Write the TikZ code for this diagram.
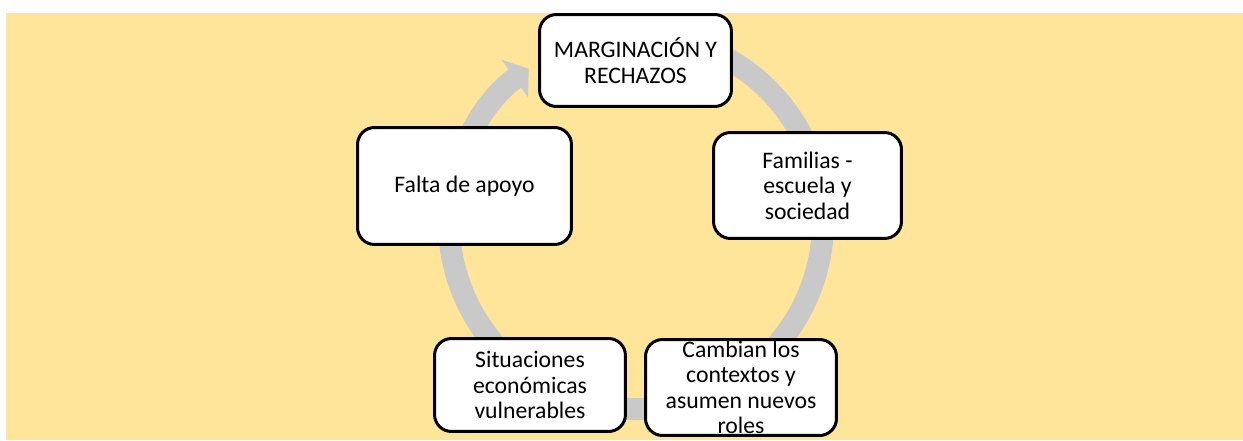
\documentclass[tikz,border=0pt]{standalone}
\usepackage{fontspec}
\setmainfont{Carlito}
\usetikzlibrary{arrows.meta}
\definecolor{fondo}{HTML}{FFE599}
\definecolor{anillo}{HTML}{C9C9C9}
\newcommand{\textocaja}{\fontsize{13.5}{14.5}\selectfont}
\tikzset{
  caja/.style={draw=black, line width=0.06cm, fill=white, rounded corners=0.34cm,
    align=center, inner sep=0pt, font=\textocaja, text=black}
}
\begin{document}
\begin{tikzpicture}[x=0.02cm,y=0.02cm]
\useasboundingbox (0,0) rectangle (1243,440);
\fill[fondo] (6,0) rectangle (1243,427);

% anillo del ciclo
\coordinate (centro) at (636,218);
\draw[anillo, line width=0.44cm, -{Triangle[width=0.9cm,length=0.34cm]}]
  ([shift={(80:187)}]centro) arc[start angle=80, end angle=-235, radius=187];

% cajas
\node[caja, minimum width=3.84cm, minimum height=1.84cm] (margina) at (635.5,379.5) {MARGINACIÓN Y\\RECHAZOS};
\node[caja, minimum width=4.28cm, minimum height=2.34cm] (falta) at (464.5,254) {Falta de apoyo};
\node[caja, minimum width=3.76cm, minimum height=2.12cm] (familias) at (807.5,254.5) {Familias -\\escuela y\\sociedad};
\node[caja, minimum width=3.82cm, minimum height=1.86cm] (situa) at (530,55) {Situaciones\\económicas\\vulnerables};
\node[caja, minimum width=3.82cm, minimum height=1.92cm] (cambian) at (741,52.5) {Cambian los\\contextos y\\asumen nuevos\\roles};
\end{tikzpicture}
\end{document}
